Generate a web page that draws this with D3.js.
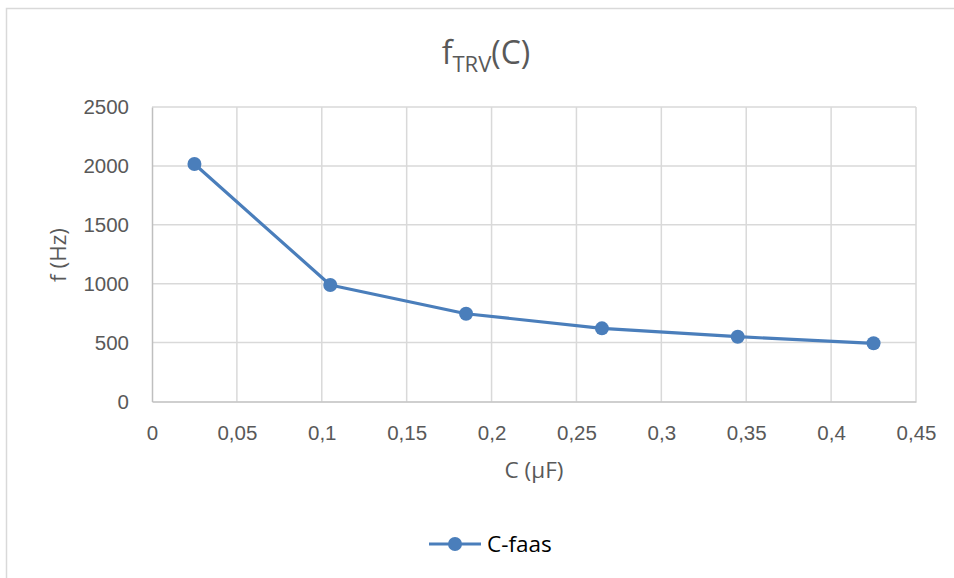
<!DOCTYPE html>
<html><head><meta charset="utf-8">
<script src="https://cdn.jsdelivr.net/npm/d3@7"></script>
<style>body{margin:0;background:#fff;}svg{display:block;font-family:"Open Sans","Liberation Sans",sans-serif;}</style>
</head><body>
<svg id="c" width="954" height="578"></svg>
<script>
const capacitance = [0.025, 0.105, 0.185, 0.265, 0.345, 0.425];
const frequency = [2016, 989, 745, 621, 550, 494];
const xTicks = [0, 0.05, 0.1, 0.15, 0.2, 0.25, 0.3, 0.35, 0.4, 0.45];
const yTicks = [0, 500, 1000, 1500, 2000, 2500];
const seriesName = "C-faas";

const svg = d3.select("#c");
const W = 954, H = 578;
svg.append("rect").attr("x",6.5).attr("y",8.5).attr("width",W).attr("height",H)
  .attr("fill","#fff").attr("stroke","#d9d9d9").attr("stroke-width",1.5);

const x = d3.scaleLinear().domain([0,0.45]).range([152,916]);
const y = d3.scaleLinear().domain([0,2500]).range([401.5,107]);
const fmt = d => String(+d.toFixed(2)).replace(".", ",");

// gridlines
svg.append("g").selectAll("line").data(yTicks.filter(d=>d>0)).join("line")
  .attr("x1",x(0)).attr("x2",x(0.45)).attr("y1",d=>y(d)).attr("y2",d=>y(d))
  .attr("stroke","#d9d9d9").attr("stroke-width",1.5);
svg.append("g").selectAll("line").data(xTicks.filter(d=>d>0)).join("line")
  .attr("x1",d=>x(d)).attr("x2",d=>x(d)).attr("y1",y(0)).attr("y2",y(2500))
  .attr("stroke","#d9d9d9").attr("stroke-width",1.5);

// axes
const xAxis = svg.append("g").attr("transform",`translate(0,${y(0)})`)
  .call(d3.axisBottom(x).tickValues(xTicks).tickFormat(fmt).tickSize(0).tickPadding(24));
xAxis.select(".domain").attr("stroke","#bfbfbf").attr("stroke-width",1.5);
xAxis.selectAll("text").attr("fill","#595959").style("font-size","20.5px");

const yAxis = svg.append("g").attr("transform",`translate(${x(0)},0)`)
  .call(d3.axisLeft(y).tickValues(yTicks).tickFormat(d=>String(d)).tickSize(0).tickPadding(23));
yAxis.select(".domain").attr("stroke","#bfbfbf").attr("stroke-width",1.5);
yAxis.selectAll("text").attr("fill","#595959").style("font-size","20.5px");

// line
const data = capacitance.map((c,i)=>({c, f:frequency[i]}));
svg.append("path").datum(data)
  .attr("d", d3.line().x(d=>x(d.c)).y(d=>y(d.f)))
  .attr("fill","none").attr("stroke","#4a7ebb").attr("stroke-width",3.2).attr("stroke-linejoin","round");
svg.append("g").selectAll("circle").data(data).join("circle")
  .attr("cx",d=>x(d.c)).attr("cy",d=>y(d.f)).attr("r",7).attr("fill","#4a7ebb");

// title
const t = svg.append("text").attr("x",486).attr("y",64).attr("text-anchor","middle")
  .attr("fill","#595959").style("font-size","32px");
t.append("tspan").text("f");
t.append("tspan").attr("dy",8).style("font-size","22px").text("TRV");
t.append("tspan").attr("dy",-8).text("(C)");

// axis titles
svg.append("text").attr("x",534).attr("y",478).attr("text-anchor","middle")
  .attr("fill","#595959").style("font-size","22.5px").text("C (µF)");
svg.append("text").attr("transform","translate(66,255) rotate(-90)").attr("text-anchor","middle")
  .attr("fill","#595959").style("font-size","22.5px").text("f (Hz)");

// legend
const lg = svg.append("g");
lg.append("line").attr("x1",429).attr("x2",481).attr("y1",544).attr("y2",544)
  .attr("stroke","#4a7ebb").attr("stroke-width",3.2);
lg.append("circle").attr("cx",455).attr("cy",544).attr("r",7).attr("fill","#4a7ebb");
lg.append("text").attr("x",487).attr("y",552).attr("fill","#000").style("font-size","22.5px").text(seriesName);
</script>
</body></html>
